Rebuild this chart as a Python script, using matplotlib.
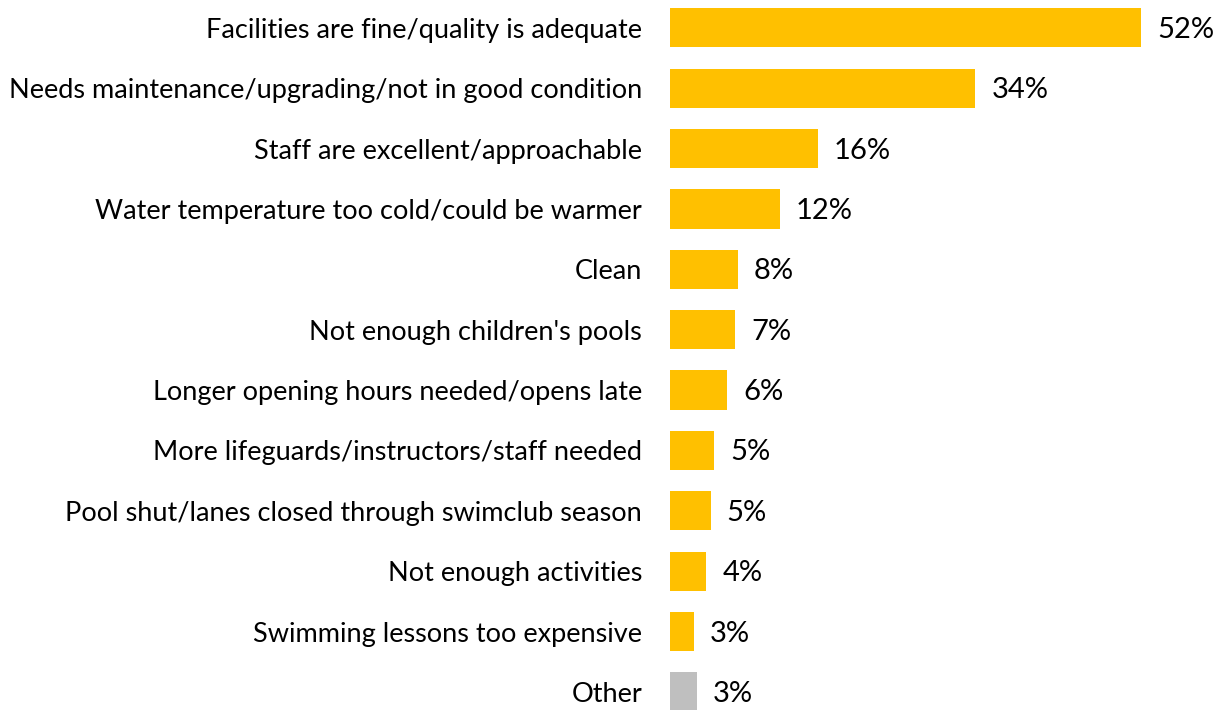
import matplotlib.pyplot as plt

categories = [
    "Facilities are fine/quality is adequate",
    "Needs maintenance/upgrading/not in good condition",
    "Staff are excellent/approachable",
    "Water temperature too cold/could be warmer",
    "Clean",
    "Not enough children's pools",
    "Longer opening hours needed/opens late",
    "More lifeguards/instructors/staff needed",
    "Pool shut/lanes closed through swimclub season",
    "Not enough activities",
    "Swimming lessons too expensive",
    "Other",
]
values = [52, 33.7, 16.3, 12.1, 7.5, 7.2, 6.3, 4.9, 4.5, 4.0, 2.6, 3.0]
value_labels = ["52%", "34%", "16%", "12%", "8%", "7%", "6%", "5%", "5%", "4%", "3%", "3%"]
colors = ["#FFC000"] * 11 + ["#BFBFBF"]

plt.rcParams["font.family"] = ["Lato", "DejaVu Sans"]

fig = plt.figure(figsize=(12.24, 7.10), dpi=100)
ax = fig.add_axes([670 / 1224, 0, 543.6 / 1224, 1])

y = list(range(len(categories)))
ax.barh(y, values, height=0.65, color=colors)
ax.set_xlim(0, 60)
ax.set_ylim(11.3, -0.46)

ax.set_yticks(y)
ax.set_yticklabels(categories, fontsize=19.5, color="#000000")
ax.tick_params(axis="y", length=0, pad=20)
ax.set_xticks([])
for s in ax.spines.values():
    s.set_visible(False)

# value labels right of each bar
for yi, v, lab in zip(y, values, value_labels):
    ax.annotate(lab, (v, yi), xytext=(11.5, -1.5), textcoords="offset points",
                va="center", ha="left", fontsize=21)

fig.savefig("out.png", dpi=100)
